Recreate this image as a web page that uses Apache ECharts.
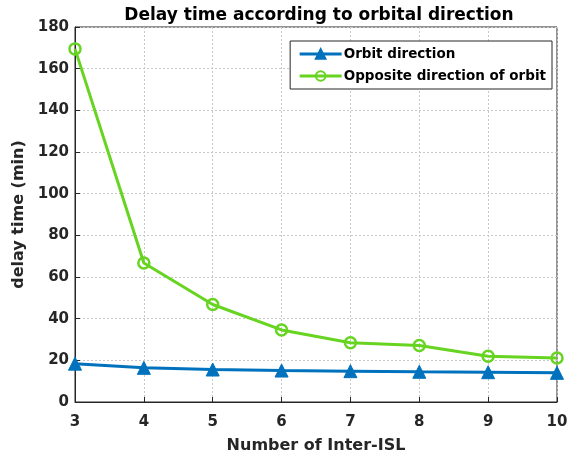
<!DOCTYPE html>
<html>
<head>
<meta charset="utf-8">
<script src="https://cdn.jsdelivr.net/npm/echarts@6/dist/echarts.min.js"></script>
<style>html,body{margin:0;padding:0;background:#fff}#c{width:583px;height:462px}</style>
</head>
<body>
<div id="c"></div>
<script>
const categories = [3, 4, 5, 6, 7, 8, 9, 10];
const orbitDirection = [18.4, 16.4, 15.6, 15.1, 14.8, 14.5, 14.3, 14.0];
const oppositeDirection = [169.5, 66.7, 46.8, 34.6, 28.4, 27.1, 22.0, 21.1];
const seriesNames = ['Orbit direction', 'Opposite direction of orbit'];
const titleText = 'Delay time according to orbital direction';
const xName = 'Number of Inter-ISL';
const yName = 'delay time (min)';

const font = 'DejaVu Sans, Liberation Sans, Arial, sans-serif';
const dark = '#262626';
const chart = echarts.init(document.getElementById('c'));
const gridLine = {show: true, lineStyle: {color: '#c8c8c8', type: [2, 2], width: 1}};
chart.setOption({
  animation: false,
  title: {text: titleText, left: 314, textAlign: 'center', top: 2,
    textStyle: {fontFamily: font, fontWeight: 'bold', fontSize: 17, color: '#000'}},
  grid: {left: 75, right: 26, top: 27, bottom: 60, show: true, borderColor: dark, borderWidth: 1, backgroundColor: '#fff'},
  legend: {
    orient: 'vertical', right: 31, top: 41, itemWidth: 42, itemHeight: 12, itemGap: 8,
    backgroundColor: '#fff', borderColor: dark, borderWidth: 1, padding: [6, 6, 6, 8],
    lineStyle: {width: 3},
    textStyle: {fontFamily: font, fontWeight: 'bold', fontSize: 13.5, color: '#000', padding: [0, 0, 0, -3]},
    data: seriesNames
  },
  xAxis: {
    type: 'value', min: 3, max: 10, interval: 1,
    name: xName, nameLocation: 'middle', nameGap: 36,
    nameTextStyle: {fontFamily: font, fontWeight: 'bold', fontSize: 16, color: dark},
    axisLine: {lineStyle: {color: dark}}, axisTick: {inside: true, length: 5, lineStyle: {color: dark}},
    axisLabel: {fontFamily: font, fontWeight: 'bold', fontSize: 15, color: dark, margin: 13},
    splitLine: gridLine
  },
  yAxis: {
    type: 'value', min: 0, max: 180, interval: 20,
    name: yName, nameLocation: 'middle', nameGap: 47,
    nameTextStyle: {fontFamily: font, fontWeight: 'bold', fontSize: 16, color: dark},
    axisLine: {show: true, lineStyle: {color: dark}}, axisTick: {show: true, inside: true, length: 5, lineStyle: {color: dark}},
    axisLabel: {fontFamily: font, fontWeight: 'bold', fontSize: 15, color: dark, margin: 6},
    splitLine: gridLine
  },
  series: [
    {name: seriesNames[0], type: 'line', data: categories.map((c, i) => [c, orbitDirection[i]]),
     symbol: 'triangle', symbolSize: 13, lineStyle: {color: '#0072BD', width: 3},
     itemStyle: {color: '#0072BD', borderColor: '#0072BD', borderWidth: 1}, z: 3},
    {name: seriesNames[1], type: 'line', data: categories.map((c, i) => [c, oppositeDirection[i]]),
     symbol: 'circle', symbolSize: 11, showAllSymbol: true, lineStyle: {color: '#66d420', width: 3},
     itemStyle: {color: 'rgba(255,255,255,0)', borderColor: '#66d420', borderWidth: 2.5}, z: 2}
  ]
});
</script>
</body>
</html>
